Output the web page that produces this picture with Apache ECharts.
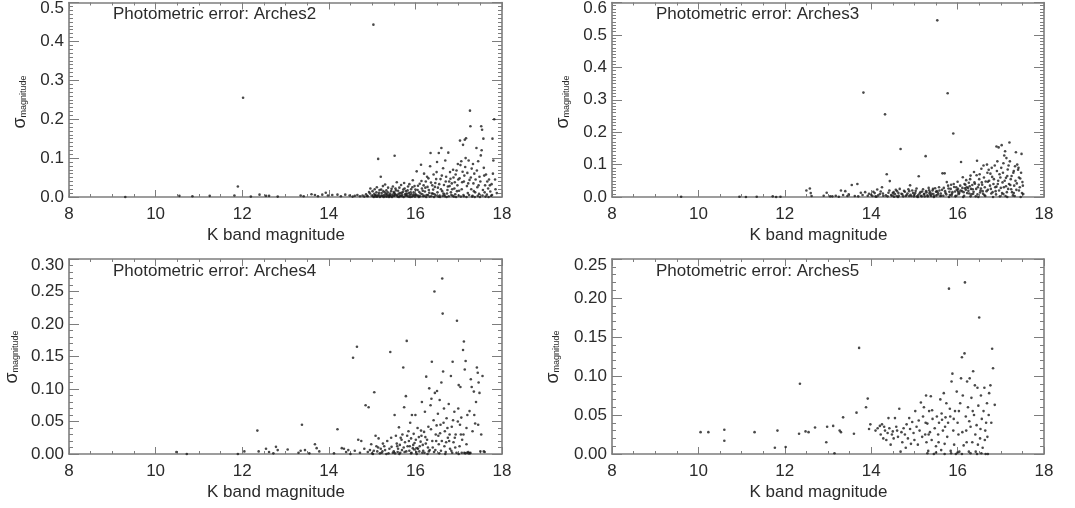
<!DOCTYPE html>
<html><head><meta charset="utf-8">
<script src="https://cdn.jsdelivr.net/npm/echarts@6/dist/echarts.min.js"></script>
<style>html,body{margin:0;padding:0;background:#fff}#c{width:1075px;height:508px}</style>
</head><body><div id="c"></div>
<script>
const xTickValues = [8, 10, 12, 14, 16, 18];
const titles = ['Photometric error: Arches2', 'Photometric error: Arches3', 'Photometric error: Arches4', 'Photometric error: Arches5'];
const xTitle = 'K band magnitude';
const yMax = [0.5, 0.6, 0.30, 0.25];
const yStep = [0.1, 0.1, 0.05, 0.05];
const yDecimals = [1, 1, 2, 2];

const arches2 = [[9.3,0.0],[10.55,0.003],[10.85,0.002],[11.25,0.003],[11.82,0.004],[11.9,0.027],[12.02,0.255],[12.2,0.001],[12.4,0.006],[12.55,0.003],[12.62,0.003],[12.82,0.001],[13.35,0.004],[13.42,0.002],[13.6,0.007],[13.68,0.005],[13.75,0.002],[13.85,0.006],[13.93,0.011],[13.98,0.004],[14.08,0.005],[14.2,0.006],[14.28,0.002],[14.38,0.006],[14.48,0.004],[14.55,0.001],[14.6,0.003],[14.66,0.005],[14.72,0.002],[14.78,0.004],[14.82,0.001],[14.86,0.007],[14.9,0.002],[14.93,0.013],[14.96,0.022],[14.99,0.004],
[15.03,0.443],[15.14,0.098],[15.52,0.106],
[15.02,0.002],[15.05,0.008],[15.07,0.004],[15.1,0.012],[15.12,0.001],[15.15,0.006],[15.17,0.018],[15.19,0.003],[15.2,0.052],
[15.22,0.01],[15.24,0.002],[15.26,0.015],[15.28,0.005],[15.3,0.032],[15.32,0.008],[15.34,0.001],[15.36,0.012],[15.38,0.004],
[15.41,0.009],[15.43,0.002],[15.45,0.021],[15.47,0.006],[15.5,0.013],[15.52,0.003],[15.55,0.017],[15.57,0.038],[15.59,0.001],
[15.61,0.008],[15.63,0.024],[15.65,0.004],[15.68,0.011],[15.7,0.002],[15.72,0.019],[15.74,0.036],[15.76,0.007],[15.78,0.015],
[15.81,0.003],[15.83,0.027],[15.85,0.01],[15.87,0.005],[15.9,0.02],[15.92,0.001],[15.94,0.043],[15.96,0.012],[15.98,0.028],
[16.01,0.006],[16.03,0.066],[16.05,0.018],[16.07,0.003],[16.1,0.034],[16.12,0.009],[16.13,0.083],[16.15,0.022],[16.18,0.002],[16.2,0.06],
[16.22,0.014],[16.24,0.04],[16.26,0.005],[16.28,0.026],[16.3,0.048],[16.32,0.011],[16.34,0.079],[16.35,0.113],[16.37,0.002],[16.39,0.03],
[16.41,0.019],[16.42,0.058],[16.44,0.007],[16.46,0.036],[16.49,0.064],[16.5,0.09],[16.52,0.024],[16.54,0.113],[16.56,0.004],[16.58,0.046],[16.6,0.126],
[16.62,0.015],[16.64,0.074],[16.66,0.031],[16.68,0.002],[16.69,0.094],[16.71,0.052],[16.73,0.009],[16.75,0.027],[16.76,0.114],[16.78,0.04],
[16.8,0.064],[16.82,0.012],[16.84,0.035],[16.86,0.003],[16.88,0.05],[16.9,0.022],[16.92,0.007],[16.95,0.068],[16.97,0.03],[16.99,0.045],
[17.01,0.016],[17.03,0.145],[17.04,0.082],[17.06,0.092],[17.08,0.038],[17.1,0.134],[17.11,0.005],[17.13,0.055],[17.14,0.147],[17.15,0.077],[17.17,0.151],[17.19,0.028],
[17.21,0.01],[17.23,0.094],[17.25,0.044],[17.26,0.222],[17.27,0.182],[17.29,0.02],[17.3,0.073],[17.32,0.003],[17.34,0.035],[17.36,0.06],[17.38,0.012],
[17.41,0.126],[17.43,0.025],[17.45,0.092],[17.47,0.008],[17.5,0.04],[17.51,0.107],[17.52,0.182],[17.53,0.12],[17.54,0.173],[17.56,0.018],[17.57,0.15],[17.59,0.055],
[17.61,0.03],[17.63,0.058],[17.65,0.006],[17.68,0.022],[17.7,0.045],[17.73,0.014],[17.76,0.033],[17.78,0.15],[17.79,0.06],[17.8,0.094],[17.82,0.2],[17.85,0.02],
[15.04,0.0],[15.09,0.001],[15.13,0.003],[15.18,0.0],[15.23,0.004],[15.27,0.0],[15.31,0.002],[15.35,0.006],[15.39,0.0],[15.42,0.005],[15.46,0.0],[15.49,0.003],[15.53,0.008],[15.58,0.004],[15.62,0.0],[15.66,0.002],[15.69,0.006],[15.73,0.0],[15.77,0.003],[15.8,0.009],[15.84,0.001],[15.88,0.0],[15.91,0.007],[15.95,0.003],[15.99,0.001],[16.04,0.004],[16.08,0.0],[16.11,0.002],[16.16,0.007],[16.21,0.003],[16.25,0.0],[16.29,0.005],[16.33,0.001],[16.38,0.009],[16.43,0.0],[16.47,0.004],[16.53,0.001],[16.57,0.0],[16.63,0.003],[16.67,0.006],[16.72,0.0],[16.77,0.002],[16.83,0.005],[16.89,0.001],[16.94,0.0],[17.0,0.004],[17.05,0.001],[17.12,0.002],[17.18,0.0],[17.24,0.005],[17.31,0.001],[17.37,0.0],[17.44,0.003],[17.49,0.0],[17.55,0.004],[17.62,0.001],[17.69,0.0],[17.75,0.003],
[14.88,0.003],[14.95,0.009],[15.01,0.015],[15.06,0.02],[15.08,0.005],[15.11,0.025],[15.16,0.011],[15.21,0.019],[15.25,0.028],[15.29,0.012],[15.33,0.017],[15.37,0.024],[15.4,0.003],[15.44,0.015],[15.48,0.027],[15.51,0.01],[15.54,0.022],[15.56,0.005],[15.6,0.016],[15.64,0.01],[15.67,0.031],[15.71,0.013],[15.75,0.022],[15.79,0.006],[15.82,0.017],[15.86,0.033],[15.89,0.012],[15.93,0.025],[15.97,0.006],[16.0,0.019],[16.06,0.029],[16.09,0.013],[16.14,0.041],[16.17,0.016],[16.19,0.03],[16.23,0.024],[16.27,0.052],[16.31,0.018],[16.36,0.037],[16.4,0.009],[16.45,0.026],[16.48,0.046],[16.51,0.012],[16.55,0.033],[16.59,0.02],[16.61,0.055],[16.65,0.009],[16.7,0.04],[16.74,0.018],[16.79,0.028],[16.81,0.047],[16.85,0.02],[16.87,0.07],[16.91,0.038],[16.93,0.058],[16.96,0.015],[16.98,0.085],[17.02,0.048],[17.07,0.02],[17.09,0.065],[17.12,0.04],[17.16,0.1],[17.2,0.062],[17.22,0.035],[17.28,0.05],[17.33,0.085],[17.35,0.015],[17.39,0.045],[17.42,0.068],[17.46,0.03],[17.48,0.052],[17.58,0.075],[17.6,0.012],[17.66,0.04],[17.72,0.03],[17.77,0.005],[17.84,0.045],[17.88,0.01]];

const arches3 = [[9.6,0.001],[10.95,0.001],[11.1,0.0],[11.35,0.001],[11.72,0.002],[11.8,0.0],[11.9,0.001],[12.5,0.02],[12.58,0.026],[12.6,0.012],[12.62,0.003],[12.9,0.004],[12.97,0.013],[13.05,0.002],[13.18,0.004],[13.3,0.02],[13.35,0.006],[13.4,0.018],[13.48,0.008],[13.55,0.037],[13.62,0.003],[13.68,0.04],[13.76,0.013],[13.82,0.322],[13.86,0.015],[13.92,0.004],[14.0,0.007],[14.05,0.016],[14.1,0.002],[14.14,0.023],[14.2,0.009],[14.25,0.03],[14.28,0.004],[14.32,0.255],[14.36,0.07],[14.4,0.013],[14.43,0.049],[14.46,0.006],[14.5,0.012],[14.53,0.001],[14.57,0.022],[14.6,0.018],[14.64,0.004],[14.68,0.148],[14.7,0.01],[14.74,0.002],[14.78,0.016],[14.82,0.006],[14.86,0.024],[14.9,0.036],[14.93,0.003],[14.97,0.012],[15.0,0.007],[15.03,0.019],[15.06,0.002],[15.1,0.064],[15.12,0.011],[15.15,0.004],[15.18,0.017],[15.22,0.008],[15.26,0.126],[15.28,0.014],[15.31,0.002],[15.34,0.021],[15.37,0.006],[15.4,0.01],[15.43,0.025],[15.46,0.003],[15.5,0.016],[15.53,0.545],[15.55,0.008],[15.58,0.02],[15.62,0.004],[15.65,0.073],[15.7,0.073],[15.72,0.012],[15.75,0.046],[15.77,0.32],[15.79,0.026],[15.82,0.006],[15.85,0.038],[15.88,0.015],[15.9,0.196],[15.92,0.031],[15.95,0.002],[15.98,0.022],[16.0,0.047],[16.03,0.009],[16.06,0.035],[16.08,0.108],[16.1,0.018],[16.12,0.061],[16.15,0.004],[16.17,0.027],[16.2,0.052],[16.22,0.012],[16.25,0.019],[16.28,0.033],[16.3,0.066],[16.32,0.008],[16.35,0.024],[16.38,0.077],[16.4,0.041],[16.42,0.002],[16.45,0.112],[16.47,0.03],[16.5,0.055],[16.52,0.014],[16.55,0.087],[16.57,0.038],[16.6,0.097],[16.62,0.006],[16.65,0.048],[16.68,0.1],[16.7,0.022],[16.72,0.084],[16.75,0.035],[16.78,0.011],[16.8,0.062],[16.83,0.04],[16.86,0.097],[16.88,0.018],[16.9,0.156],[16.92,0.11],[16.95,0.153],[16.97,0.07],[17.0,0.028],[17.02,0.16],[17.04,0.045],[17.06,0.104],[17.08,0.128],[17.1,0.141],[17.12,0.059],[17.14,0.015],[17.16,0.085],[17.18,0.097],[17.2,0.168],[17.22,0.037],[17.25,0.065],[17.28,0.005],[17.3,0.08],[17.33,0.095],[17.35,0.138],[17.37,0.042],[17.4,0.084],[17.42,0.02],[17.45,0.057],[17.48,0.133],[17.5,0.046],[17.52,0.009],
[14.12,0.001],[14.38,0.002],[14.62,0.0],[14.88,0.003],[15.08,0.0],[15.24,0.002],[15.45,0.0],[15.6,0.003],[15.8,0.0],[15.96,0.004],[16.13,0.0],[16.3,0.002],[16.48,0.0],[16.64,0.003],[16.82,0.0],[16.98,0.002],[17.15,0.0],[17.32,0.003],[17.46,0.0],[15.35,0.011],[15.52,0.018],[15.68,0.028],[15.86,0.005],[16.02,0.017],[16.18,0.038],[16.36,0.01],[16.54,0.026],[16.7,0.047],[16.9,0.032],[17.06,0.009],[17.24,0.024],[17.42,0.06],[16.26,0.044],[16.44,0.067],[16.58,0.018],[16.76,0.072],[16.94,0.05],[17.12,0.033],[17.3,0.012],
[13.1,0.002],[13.25,0.001],[13.45,0.003],[13.7,0.002],[13.8,0.006],[13.95,0.01],[14.03,0.003],[14.08,0.012],[14.16,0.005],[14.22,0.017],[14.27,0.011],[14.34,0.005],[14.42,0.02],[14.48,0.004],[14.52,0.015],[14.55,0.009],[14.59,0.003],[14.63,0.012],[14.66,0.025],[14.72,0.008],[14.76,0.019],[14.8,0.003],[14.84,0.011],[14.88,0.018],[14.91,0.007],[14.95,0.02],[14.99,0.002],[15.02,0.012],[15.05,0.026],[15.09,0.006],[15.14,0.015],[15.17,0.002],[15.2,0.024],[15.23,0.01],[15.27,0.018],[15.3,0.005],[15.33,0.028],[15.36,0.015],[15.39,0.003],[15.42,0.02],[15.44,0.009],[15.48,0.027],[15.51,0.005],[15.54,0.014],[15.57,0.03],[15.61,0.011],[15.64,0.022],[15.67,0.004],[15.71,0.018],[15.74,0.008],[15.78,0.035],[15.81,0.016],[15.84,0.025],[15.87,0.01],[15.91,0.04],[15.94,0.017],[15.97,0.03],[16.01,0.025],[16.04,0.013],[16.07,0.02],[16.11,0.028],[16.14,0.015],[16.16,0.04],[16.19,0.022],[16.21,0.03],[16.24,0.028],[16.27,0.011],[16.29,0.055],[16.31,0.025],[16.34,0.037],[16.37,0.016],[16.39,0.045],[16.43,0.025],[16.46,0.008],[16.49,0.038],[16.51,0.07],[16.53,0.02],[16.56,0.045],[16.59,0.01],[16.61,0.06],[16.63,0.03],[16.67,0.018],[16.69,0.075],[16.73,0.05],[16.77,0.025],[16.79,0.09],[16.81,0.015],[16.84,0.055],[16.87,0.03],[16.89,0.008],[16.91,0.08],[16.93,0.04],[16.96,0.02],[16.99,0.06],[17.01,0.09],[17.03,0.012],[17.05,0.075],[17.07,0.03],[17.09,0.05],[17.11,0.003],[17.13,0.12],[17.15,0.065],[17.17,0.025],[17.19,0.04],[17.21,0.11],[17.23,0.055],[17.26,0.015],[17.29,0.075],[17.31,0.035],[17.34,0.05],[17.36,0.022],[17.38,0.1],[17.41,0.09],[17.44,0.03],[17.47,0.075],[17.49,0.012],[17.51,0.035]];

const arches4 = [[10.48,0.003],[10.72,0.0],[11.9,0.0],[12.05,0.004],[12.35,0.036],[12.38,0.004],[12.55,0.008],[12.62,0.003],[12.72,0.001],[12.78,0.011],[12.82,0.006],[13.05,0.007],[13.3,0.002],[13.35,0.005],[13.38,0.045],[13.45,0.006],[13.55,0.001],[13.68,0.015],[13.72,0.009],[13.78,0.004],[14.12,0.001],[14.2,0.038],[14.3,0.009],[14.35,0.008],[14.4,0.003],[14.45,0.006],[14.5,0.0],[14.56,0.148],[14.6,0.005],[14.65,0.165],[14.68,0.022],[14.72,0.002],[14.75,0.02],[14.82,0.008],[14.85,0.075],[14.9,0.003],[14.92,0.072],[14.95,0.006],[15.0,0.001],[15.05,0.095],[15.08,0.028],[15.1,0.012],[15.12,0.004],[15.15,0.024],[15.2,0.008],[15.22,0.002],[15.25,0.016],[15.3,0.006],[15.35,0.02],[15.38,0.001],[15.42,0.157],[15.45,0.011],[15.5,0.004],[15.52,0.06],[15.55,0.028],[15.57,0.016],[15.6,0.008],[15.62,0.041],[15.65,0.002],[15.68,0.022],[15.7,0.03],[15.72,0.133],[15.74,0.072],[15.76,0.018],[15.78,0.089],[15.8,0.174],[15.82,0.012],[15.84,0.035],[15.86,0.005],[15.88,0.048],[15.9,0.024],[15.92,0.06],[15.94,0.009],[15.96,0.031],[15.98,0.017],[16.0,0.06],[16.02,0.003],[16.05,0.04],[16.08,0.026],[16.1,0.012],[16.12,0.019],[16.15,0.08],[16.18,0.005],[16.2,0.034],[16.22,0.065],[16.25,0.119],[16.27,0.022],[16.3,0.042],[16.32,0.101],[16.35,0.075],[16.37,0.085],[16.38,0.142],[16.4,0.01],[16.42,0.052],[16.44,0.25],[16.45,0.094],[16.47,0.03],[16.5,0.097],[16.52,0.062],[16.54,0.015],[16.56,0.083],[16.58,0.045],[16.6,0.11],[16.62,0.27],[16.63,0.216],[16.64,0.127],[16.66,0.07],[16.68,0.035],[16.7,0.003],[16.72,0.055],[16.75,0.025],[16.77,0.077],[16.8,0.008],[16.82,0.12],[16.84,0.042],[16.86,0.142],[16.88,0.018],[16.9,0.065],[16.93,0.03],[16.96,0.205],[16.98,0.05],[17.0,0.106],[17.02,0.012],[17.04,0.103],[17.06,0.056],[17.08,0.022],[17.1,0.16],[17.12,0.173],[17.14,0.13],[17.16,0.143],[17.18,0.04],[17.2,0.06],[17.22,0.003],[17.25,0.066],[17.28,0.115],[17.3,0.103],[17.32,0.035],[17.35,0.096],[17.38,0.047],[17.4,0.08],[17.42,0.133],[17.44,0.125],[17.46,0.11],[17.48,0.094],[17.5,0.004],[17.55,0.12],[17.6,0.003],
[15.02,0.0],[15.18,0.001],[15.33,0.0],[15.48,0.002],[15.63,0.0],[15.75,0.003],[15.9,0.001],[16.03,0.0],[16.16,0.002],[16.28,0.0],[16.43,0.003],[16.55,0.001],[16.69,0.0],[16.85,0.002],[17.0,0.0],[17.13,0.002],[17.26,0.001],
[15.58,0.012],[15.66,0.025],[15.85,0.02],[15.95,0.014],[16.06,0.008],[16.14,0.028],[16.24,0.016],[16.33,0.006],[16.48,0.02],[16.57,0.032],[16.67,0.012],[16.78,0.02],[16.92,0.01],[17.05,0.03],[17.18,0.015],
[14.98,0.015],[15.04,0.005],[15.14,0.01],[15.24,0.004],[15.28,0.012],[15.4,0.008],[15.44,0.025],[15.53,0.001],[15.59,0.003],[15.64,0.014],[15.69,0.006],[15.73,0.01],[15.79,0.004],[15.81,0.028],[15.87,0.012],[15.91,0.002],[15.97,0.007],[16.01,0.022],[16.04,0.009],[16.09,0.004],[16.13,0.036],[16.17,0.014],[16.21,0.002],[16.23,0.026],[16.29,0.01],[16.31,0.004],[16.36,0.038],[16.39,0.02],[16.46,0.006],[16.49,0.044],[16.53,0.028],[16.59,0.005],[16.61,0.02],[16.65,0.048],[16.71,0.018],[16.74,0.04],[16.79,0.03],[16.83,0.005],[16.87,0.052],[16.91,0.025],[16.95,0.002],[16.99,0.07],[17.03,0.045],[17.07,0.002],[17.11,0.03],[17.15,0.001],[17.19,0.002],[17.23,0.001],[17.27,0.002],[17.36,0.06],[17.45,0.045],[17.52,0.03],[17.58,0.004]];

const arches5 = [[10.05,0.028],[10.23,0.028],[10.6,0.031],[10.6,0.017],[11.3,0.028],[11.77,0.008],[11.83,0.03],[12.02,0.009],[12.35,0.09],[12.33,0.026],[12.48,0.029],[12.55,0.028],[12.7,0.034],[12.96,0.015],[12.98,0.035],[13.12,0.036],[13.15,0.001],[13.27,0.03],[13.3,0.028],[13.35,0.047],[13.6,0.026],[13.66,0.053],[13.72,0.136],[13.88,0.06],[13.92,0.071],[13.95,0.032],[13.98,0.038],
[14.1,0.03],[14.15,0.033],[14.2,0.036],[14.22,0.025],[14.25,0.038],[14.28,0.02],[14.3,0.035],[14.32,0.03],[14.35,0.018],[14.38,0.027],[14.4,0.046],[14.42,0.033],[14.45,0.012],[14.48,0.025],[14.5,0.029],[14.52,0.02],[14.55,0.046],[14.58,0.035],[14.6,0.03],[14.62,0.022],[14.65,0.058],[14.68,0.003],[14.7,0.028],[14.72,0.015],[14.75,0.033],[14.78,0.025],[14.8,0.008],[14.82,0.038],[14.85,0.02],[14.88,0.046],[14.9,0.032],[14.92,0.013],[14.95,0.041],[14.98,0.027],
[15.0,0.018],[15.02,0.055],[15.05,0.035],[15.08,0.012],[15.1,0.043],[15.12,0.03],[15.15,0.066],[15.18,0.022],[15.2,0.048],[15.22,0.06],[15.25,0.025],[15.27,0.075],[15.28,0.015],[15.3,0.039],[15.32,0.004],[15.34,0.055],[15.36,0.028],[15.38,0.074],[15.4,0.018],[15.42,0.045],[15.45,0.0],[15.47,0.033],[15.5,0.01],
[15.52,0.048],[15.55,0.025],[15.57,0.04],[15.6,0.07],[15.62,0.005],[15.64,0.044],[15.66,0.03],[15.68,0.078],[15.7,0.013],[15.72,0.047],[15.74,0.065],[15.76,0.022],[15.78,0.04],[15.8,0.212],[15.82,0.058],[15.84,0.004],[15.86,0.093],[15.88,0.103],[15.9,0.03],[15.92,0.012],[15.94,0.055],[15.96,0.0],[15.98,0.08],
[16.0,0.04],[16.02,0.025],[16.04,0.003],[16.06,0.065],[16.08,0.097],[16.1,0.124],[16.12,0.075],[16.14,0.011],[16.16,0.129],[16.17,0.22],[16.19,0.048],[16.2,0.03],[16.22,0.093],[16.24,0.06],[16.26,0.003],[16.28,0.097],[16.3,0.035],[16.32,0.072],[16.34,0.015],[16.36,0.106],[16.38,0.05],[16.4,0.088],[16.42,0.003],[16.44,0.037],[16.46,0.085],[16.48,0.062],[16.5,0.175],
[16.52,0.02],[16.54,0.075],[16.56,0.045],[16.58,0.008],[16.6,0.055],[16.62,0.085],[16.64,0.03],[16.66,0.04],[16.68,0.065],[16.7,0.0],[16.72,0.05],[16.76,0.088],[16.8,0.135],[16.82,0.11],[16.86,0.063],
[15.3,0.001],[15.5,0.002],[15.7,0.0],[15.85,0.001],[16.0,0.002],[16.1,0.0],[16.3,0.001],[16.45,0.0],[16.55,0.001],[16.65,0.0],
[15.26,0.04],[15.33,0.025],[15.41,0.056],[15.56,0.015],[15.63,0.052],[15.71,0.035],[15.83,0.048],[15.91,0.045],[16.03,0.055],[16.11,0.028],[16.21,0.015],[16.27,0.042],[16.35,0.055],[16.41,0.025],[16.47,0.012],[16.53,0.032],[16.63,0.018],[16.69,0.022],[16.73,0.078],[16.78,0.04]];

const seriesData = [arches2, arches3, arches4, arches5];

// layout (pixels)
const grids = [
  {left: 69, top: 2, width: 433, height: 195},
  {left: 612, top: 2, width: 432, height: 195},
  {left: 69, top: 259, width: 433, height: 195},
  {left: 612, top: 259, width: 432, height: 195}
];
const titlePos = [[113, 15], [656, 15], [113, 272], [656, 272]];
const yNamePos = [[20, 102], [563, 102], [12, 357], [553, 357]];

const FONT = 'Liberation Sans, Arial, Helvetica, sans-serif';
const TXT = '#2b2b2b';
const AX = '#7d7d7d';

const option = {
  animation: false,
  backgroundColor: '#fff',
  grid: grids.map(g => Object.assign({containLabel: false}, g)),
  xAxis: [], yAxis: [], series: [], graphic: []
};

for (let i = 0; i < 4; i++) {
  const lineStyle = {color: AX, width: 1.6};
  const xBase = {
    type: 'value', gridIndex: i, min: 8, max: 18, interval: 2,
    axisLine: {show: true, onZero: false, lineStyle},
    axisTick: {show: true, inside: true, length: 7, lineStyle: {color: AX, width: 1}},
    minorTick: {show: true, splitNumber: 4, length: 3, lineStyle: {color: AX, width: 1}},
    splitLine: {show: false}
  };
  option.xAxis.push(Object.assign({}, xBase, {
    position: 'bottom',
    axisLabel: {show: true, margin: 9, fontSize: 17, color: TXT, fontFamily: FONT,
      formatter: v => xTickValues.includes(v) ? String(v) : ''},
    name: xTitle, nameLocation: 'middle', nameGap: 30,
    nameTextStyle: {fontSize: 17, color: TXT, fontFamily: FONT, padding: [0, 19, 0, 0]}
  }));
  option.xAxis.push(Object.assign({}, xBase, {position: 'top', axisLabel: {show: false}}));

  const ymax = yMax[i], step = yStep[i], dec = yDecimals[i];
  const yBase = {
    type: 'value', gridIndex: i, min: 0, max: ymax, interval: step,
    axisLine: {show: true, onZero: false, lineStyle},
    axisTick: {show: true, inside: true, length: 10, lineStyle: {color: AX, width: 1}},
    minorTick: {show: true, splitNumber: Math.round(step / 0.01), length: 4, lineStyle: {color: AX, width: 1}},
    splitLine: {show: false}
  };
  option.yAxis.push(Object.assign({}, yBase, {
    position: 'left',
    axisLabel: {show: true, margin: 5, fontSize: 17, color: TXT, fontFamily: FONT,
      formatter: v => Math.abs(v - ymax) < 1e-9 ? '{t|' + v.toFixed(dec) + '}' : v.toFixed(dec),
      rich: {t: {fontSize: 17, color: TXT, fontFamily: FONT, padding: [12, 0, 0, 0]}}}
  }));
  option.yAxis.push(Object.assign({}, yBase, {position: 'right', axisLabel: {show: false}}));

  option.series.push({
    type: 'scatter', xAxisIndex: 2 * i, yAxisIndex: 2 * i,
    data: seriesData[i], symbol: 'circle', symbolSize: 2.6,
    itemStyle: {color: '#1c1c1c'}, silent: true
  });

  option.graphic.push({
    type: 'text', left: titlePos[i][0], top: titlePos[i][1] - 9,
    style: {text: titles[i], fontSize: 17, fill: TXT, fontFamily: FONT}
  });
  option.graphic.push({
    type: 'text', x: yNamePos[i][0], y: yNamePos[i][1], rotation: Math.PI / 2,
    style: {text: '{a|σ}{b|magnitude}', align: 'center', verticalAlign: 'middle',
      rich: {a: {fontSize: 18, fill: TXT, fontFamily: FONT},
             b: {fontSize: 9, fill: TXT, fontFamily: FONT, padding: [8, 0, 0, 0]}}}
  });
}

const chart = echarts.init(document.getElementById('c'), null, {renderer: 'canvas'});
chart.setOption(option);
</script>
</body></html>
